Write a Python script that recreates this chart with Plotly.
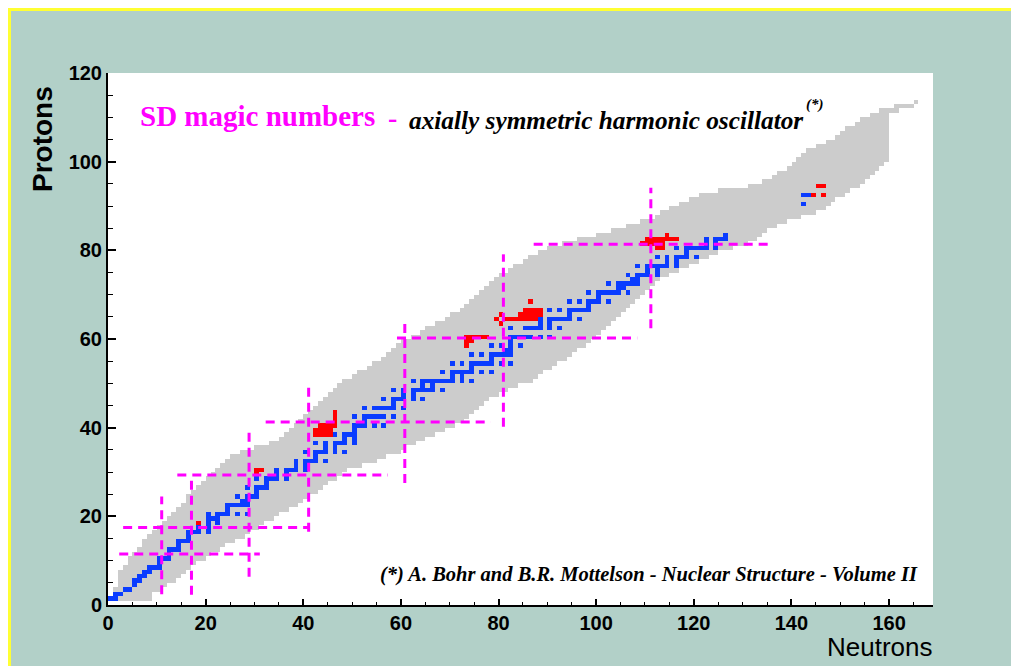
import numpy as np
import plotly.graph_objects as go

# ---------------- data ----------------
# Known nuclides band: for proton number Z (1..113) first and last neutron number
band_Z = list(range(1, 114))
band_Nmin = [1, 1, 1, 2, 2, 2, 2, 3, 4, 4,
             5, 6, 7, 7, 8, 9, 10, 11, 12, 13,
             14, 15, 16, 16, 17, 18, 19, 20, 21, 22,
             23, 24, 25, 27, 30, 33, 35, 36, 37, 38,
             39, 40, 41, 42, 43, 44, 45, 46, 47, 48,
             50, 51, 53, 54, 56, 57, 58, 59, 60, 62,
             64, 65, 67, 69, 70, 72, 73, 74, 75, 76,
             77, 78, 79, 80, 82, 83, 85, 86, 88, 90,
             93, 96, 100, 103, 106, 109, 112, 113, 115, 117,
             119, 121, 125, 131, 134, 136, 137, 139, 140, 141,
             142, 143, 145, 147, 149, 150, 151, 153, 154, 156,
             158, 161, 165]
band_Nmax = [8, 8, 10, 11, 13, 14, 15, 16, 17, 19,
             20, 22, 23, 25, 27, 28, 30, 31, 33, 34,
             36, 38, 39, 40, 42, 43, 44, 46, 47, 48,
             51, 54, 56, 59, 60, 62, 64, 66, 68, 70,
             72, 73, 74, 75, 76, 77, 79, 81, 83, 86,
             87, 88, 90, 91, 93, 94, 95, 97, 98, 99,
             100, 101, 102, 103, 104, 105, 106, 107, 108, 109,
             110, 111, 112, 114, 116, 118, 120, 122, 124, 127,
             130, 132, 133, 134, 136, 138, 141, 144, 146, 147,
             148, 150, 151, 153, 154, 155, 156, 157, 158, 159,
             159, 159, 159, 159, 159, 159, 159, 159, 159, 159,
             161, 164, 165]

# Stable (and very long-lived) nuclides: mass numbers for Z = 1, 2, 3, ...
stable_A = [
    [1, 2], [3, 4], [6, 7], [9], [10, 11], [12, 13], [14, 15], [16, 17, 18], [19], [20, 21, 22],
    [23], [24, 25, 26], [27], [28, 29, 30], [31], [32, 33, 34, 36], [35, 37], [36, 38, 40], [39, 40, 41],
    [40, 42, 43, 44, 46, 48],
    [45], [46, 47, 48, 49, 50], [50, 51], [50, 52, 53, 54], [55], [54, 56, 57, 58], [59], [58, 60, 61, 62, 64],
    [63, 65], [64, 66, 67, 68, 70],
    [69, 71], [70, 72, 73, 74, 76], [75], [74, 76, 77, 78, 80, 82], [79, 81], [78, 80, 82, 83, 84, 86], [85, 87],
    [84, 86, 87, 88], [89], [90, 91, 92, 94, 96],
    [93], [92, 94, 95, 96, 97, 98, 100], [], [96, 98, 99, 100, 101, 102, 104], [103], [102, 104, 105, 106, 108, 110],
    [107, 109], [106, 108, 110, 111, 112, 113, 114, 116], [113, 115], [112, 114, 115, 116, 117, 118, 119, 120, 122, 124],
    [121, 123], [120, 122, 123, 124, 125, 126, 128, 130], [127], [124, 126, 128, 129, 130, 131, 132, 134, 136], [133],
    [130, 132, 134, 135, 136, 137, 138], [138, 139], [136, 138, 140, 142], [141], [142, 143, 144, 145, 146, 148, 150],
    [], [144, 147, 148, 149, 150, 152, 154], [151, 153], [152, 154, 155, 156, 157, 158, 160], [159],
    [156, 158, 160, 161, 162, 163, 164], [165], [162, 164, 166, 167, 168, 170], [169], [168, 170, 171, 172, 173, 174, 176],
    [175, 176], [174, 176, 177, 178, 179, 180], [180, 181], [180, 182, 183, 184, 186], [185, 187],
    [184, 186, 187, 188, 189, 190, 192], [191, 193], [190, 192, 194, 195, 196, 198], [197], [196, 198, 199, 200, 201, 202, 204],
    [203, 205], [204, 206, 207, 208], [209], [], [], [], [], [], [], [232], [], [234, 235],
]

# Superdeformed nuclei (neutron number, proton number)
sd_N = [18, 30, 31, 30,
        42, 43, 44, 45, 42, 43, 44, 45, 43, 44, 45, 46, 46, 46, 46,
        73, 74, 75, 76, 77, 73, 74, 73,
        79, 80, 81, 80,
        85, 86, 87, 88, 84, 85, 86, 87, 88, 82, 83, 84, 85, 86, 87, 86,
        114, 110, 111, 112, 113, 114, 115, 116, 109, 110, 111, 112, 113, 112, 113,
        144, 146, 145, 146]
sd_Z = [18, 30, 30, 29,
        38, 38, 38, 38, 39, 39, 39, 39, 40, 40, 40, 40, 41, 42, 43,
        60, 60, 60, 60, 60, 59, 59, 58,
        64, 65, 64, 63,
        66, 66, 66, 66, 65, 65, 65, 65, 65, 64, 64, 64, 64, 64, 64, 68,
        83, 82, 82, 82, 82, 82, 82, 82, 81, 81, 81, 81, 81, 80, 80,
        92, 92, 94, 94]

# SD magic-number guide lines
hline_Z = [11.5, 17.5, 29.3, 41.3, 60.2, 81.4]
hline_N0 = [2.3, 3.1, 14.2, 32.3, 59.2, 87.2]
hline_N1 = [31.1, 41.2, 57.3, 78.4, 108.4, 135.8]
vline_N = [11.0, 17.1, 28.9, 41.1, 60.8, 81.0, 111.2]
vline_Z0 = [2.4, 2.3, 6.4, 16.5, 27.5, 40.2, 62.4]
vline_Z1 = [24.5, 29.0, 39.5, 49.2, 63.9, 79.1, 94.1]

x_ticks = [0, 20, 40, 60, 80, 100, 120, 140, 160]
y_ticks = [0, 20, 40, 60, 80, 100, 120]

# ---------------- build grid ----------------
NX, NY = 170, 120
grid = np.full((NY, NX), np.nan)
for z, n0, n1 in zip(band_Z, band_Nmin, band_Nmax):
    grid[z, n0:n1 + 1] = 1
for i, masses in enumerate(stable_A):
    z = i + 1
    for a in masses:
        grid[z, a - z] = 2
for n, z in zip(sd_N, sd_Z):
    grid[z, n] = 3

GRAY, BLUE, RED, MAG = "#cccccc", "#0a3cff", "#ff0000", "#ff00ff"

fig = go.Figure()
fig.add_trace(go.Heatmap(
    z=grid, x=np.arange(NX + 1), y=np.arange(NY + 1),
    zmin=1, zmax=3, zsmooth=False, showscale=False, hoverinfo="skip",
    colorscale=[[0, GRAY], [0.25, GRAY], [0.25, BLUE], [0.75, BLUE], [0.75, RED], [1, RED]],
))

lx, ly = [], []
for z, a, b in zip(hline_Z, hline_N0, hline_N1):
    lx += [a, b, None]
    ly += [z, z, None]
for n, a, b in zip(vline_N, vline_Z0, vline_Z1):
    lx += [n, n, None]
    ly += [a, b, None]
fig.add_trace(go.Scatter(x=lx, y=ly, mode="lines", hoverinfo="skip",
                         line=dict(color=MAG, width=3, dash="9px,6px")))

# ---------------- layout ----------------
# the page body adds an 8 px offset; figure spans page x 8..1014
OFF = 8
FW, FH = 1006, 670
L, T = 100, 65
W, H = 825, 532
R, B = FW - L - W, FH - T - H


def fx(px):  # page pixel -> paper x
    return (px - OFF - L) / W


def fy(py):  # page pixel -> paper y
    return (T + H - (py - OFF)) / H


tickfont = dict(family="Liberation Sans", size=20, color="black", weight="bold")
fig.update_layout(
    width=FW, height=FH,
    margin=dict(l=L, r=R, t=T, b=B, pad=0),
    paper_bgcolor="#b2d0c8", plot_bgcolor="white",
    showlegend=False,
    xaxis=dict(range=[0, 169], tickvals=x_ticks, ticks="inside", ticklen=6, tickwidth=1.5,
               tickcolor="black", showline=True, linecolor="black", linewidth=2,
               showgrid=False, zeroline=False, tickfont=tickfont, ticklabelstandoff=-1,
               minor=dict(dtick=5, ticks="inside", ticklen=3, tickwidth=1.2, tickcolor="black", showgrid=False)),
    yaxis=dict(range=[0, 120], tickvals=y_ticks, ticks="inside", ticklen=8, tickwidth=1.5,
               tickcolor="black", showline=True, linecolor="black", linewidth=2,
               showgrid=False, zeroline=False, tickfont=tickfont,
               minor=dict(dtick=5, ticks="inside", ticklen=5, tickwidth=1.2, tickcolor="black", showgrid=False)),
)

ann = []
ann.append(dict(text="Protons", x=fx(42), y=fy(139), textangle=-90, xanchor="center",
                font=dict(family="Liberation Sans", size=28, color="black", weight="bold")))
ann.append(dict(text="Neutrons", x=fx(934), y=fy(647), xanchor="right", borderpad=0,
                font=dict(family="Liberation Sans", size=26, color="black")))
ann.append(dict(text="SD magic numbers", x=fx(138), y=fy(116), xanchor="left",
                font=dict(family="Liberation Serif", size=29, color=MAG, weight="bold")))
ann.append(dict(text="-", x=fx(386), y=fy(117), xanchor="left",
                font=dict(family="Liberation Serif", size=28, color=MAG, weight="bold")))
ann.append(dict(text="axially symmetric harmonic oscillator", x=fx(407), y=fy(120), xanchor="left",
                font=dict(family="Liberation Serif", size=25.3, color="black", weight="bold", style="italic")))
ann.append(dict(text="(*)", x=fx(804), y=fy(104), xanchor="left",
                font=dict(family="Liberation Serif", size=15, color="black", weight="bold", style="italic")))
ann.append(dict(text="(*) A. Bohr and B.R. Mottelson - Nuclear Structure - Volume II", x=fx(920), y=fy(574),
                xanchor="right",
                font=dict(family="Liberation Serif", size=20.5, color="black", weight="bold", style="italic")))
for a in ann:
    a.update(xref="paper", yref="paper", showarrow=False, yanchor="middle")
fig.update_layout(annotations=ann)

# yellow frame along the figure border
fig.add_shape(type="rect", xref="paper", yref="paper", layer="above",
              x0=(1.5 - L) / W, x1=(FW - 1.5 - L) / W,
              y0=(T + H - (FH - 1.5)) / H, y1=(T + H - 1.5) / H,
              fillcolor="rgba(0,0,0,0)", line=dict(color="#ffff33", width=3))

fig.write_html("out.html")
